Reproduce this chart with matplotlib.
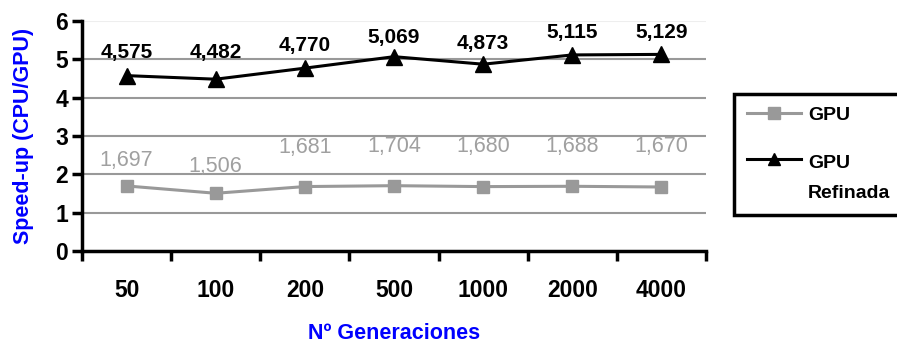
import numpy as np
from matplotlib import pyplot as plt

plt.rcParams['font.family'] = ['Liberation Sans', 'DejaVu Sans']

generaciones = ["50", "100", "200", "500", "1000", "2000", "4000"]
gpu = [1.697, 1.506, 1.681, 1.704, 1.680, 1.688, 1.670]
gpu_ref = [4.575, 4.482, 4.770, 5.069, 4.873, 5.115, 5.129]
gpu_txt = ["1,697", "1,506", "1,681", "1,704", "1,680", "1,688", "1,670"]
ref_txt = ["4,575", "4,482", "4,770", "5,069", "4,873", "5,115", "5,129"]
gpu_off = [18, 19, 28, 28, 29, 29, 29]   # label offsets in points
ref_off = [17, 19, 16, 14, 15, 16, 16]

fig = plt.figure(figsize=(8.97, 3.42), dpi=100)
ax = fig.add_axes([82/897, 1 - 251/342, (706-82)/897, (251-21)/342])

x = np.arange(len(generaciones))
l1, = ax.plot(x, gpu, color="#999999", lw=2.2, marker="s", ms=8, label="GPU", clip_on=False)
l2, = ax.plot(x, gpu_ref, color="black", lw=2.2, marker="^", ms=12, label="GPU\nRefinada", clip_on=False)

for xi, v, t, o in zip(x, gpu, gpu_txt, gpu_off):
    ax.annotate(t, (xi, v), xytext=(0, o), textcoords="offset points",
                ha="center", va="center", color="#a0a0a0", fontsize=15.5)
for xi, v, t, o in zip(x, gpu_ref, ref_txt, ref_off):
    ax.annotate(t, (xi, v), xytext=(0, o), textcoords="offset points",
                ha="center", va="center", color="black", fontsize=15, fontweight="bold")

ax.set_xlim(-0.5, len(x) - 0.5)
ax.set_ylim(0, 6)
ax.set_yticks(range(0, 7))
ax.set_xticks(x)
ax.set_xticklabels(generaciones, fontsize=16.5, fontweight="bold")
ax.set_xticks(np.arange(-0.5, len(x)), minor=True)
ax.tick_params(axis="x", which="major", length=0, pad=20)
ax.tick_params(axis="x", which="minor", length=7, width=2.5, direction="out")
ax.tick_params(axis="y", length=7, width=2.5, direction="out", labelsize=16.5, pad=3)
for lab in ax.get_yticklabels():
    lab.set_fontweight("bold")

for yv in range(1, 6):
    ax.axhline(yv, color="#999999", lw=1.5, zorder=0)
ax.axhline(6, color="#eeeeee", lw=1.5, zorder=0)

for s in ["top", "right"]:
    ax.spines[s].set_visible(False)
for s in ["left", "bottom"]:
    ax.spines[s].set_linewidth(2.5)

ax.set_ylabel("Speed-up (CPU/GPU)", color="blue", fontsize=15.5, fontweight="bold")
ax.yaxis.set_label_coords(-0.077, 0.5)
ax.set_xlabel("Nº Generaciones", color="blue", fontsize=15.5, fontweight="bold", labelpad=15)

leg = fig.legend(handles=[l1, l2], loc="upper left", bbox_to_anchor=(734/897, 1 - 94/342),
                 borderaxespad=0, frameon=True, fancybox=False, edgecolor="black",
                 framealpha=1, handlelength=2.8, labelspacing=1.6, borderpad=0.65,
                 handletextpad=0.35, prop={"weight": "bold", "size": 14})
leg.get_frame().set_linewidth(2.5)
for h in leg.legend_handles:
    h.set_markersize(9)
for t in leg.get_texts():
    t.set_linespacing(2.0)
# put the second handle next to the first line of its two-line label
h2 = leg.legend_handles[1]
h2.set_ydata(np.asarray(h2.get_ydata()) + 14)

fig.savefig("out.png", dpi=100)
